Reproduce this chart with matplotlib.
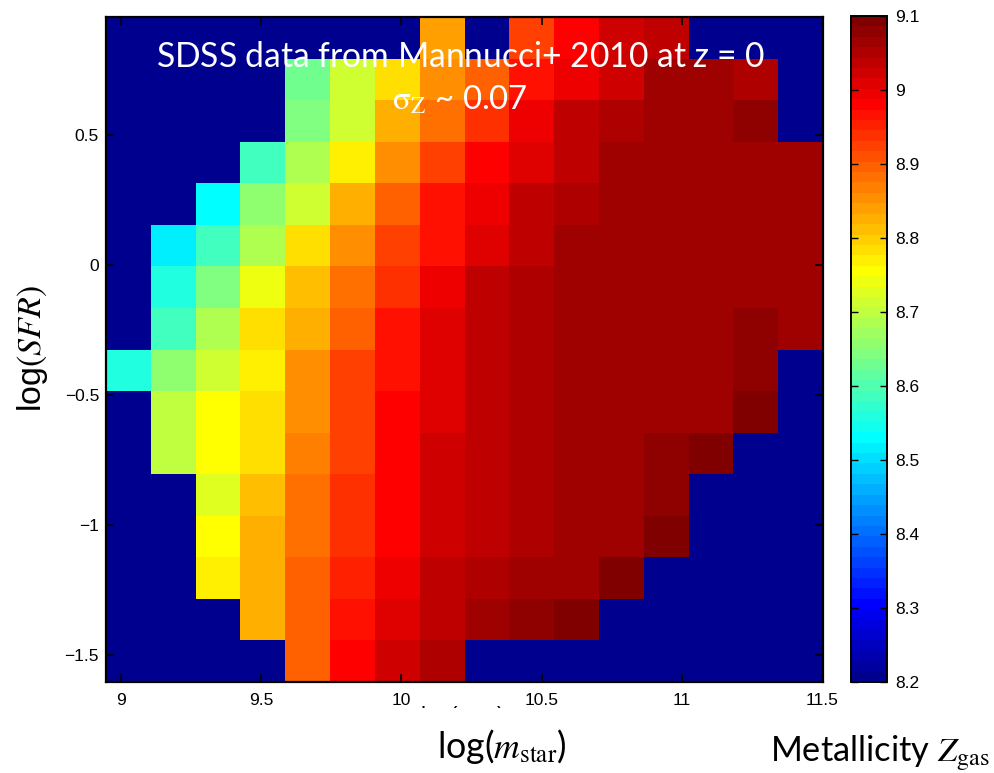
import numpy as np
import matplotlib
matplotlib.use('Agg')
import matplotlib.pyplot as plt
from matplotlib.colors import ListedColormap, Normalize
from matplotlib.patches import Rectangle

nan = np.nan

# bin centres (0.16 dex bins)
mass_bins = [9.025, 9.185, 9.345, 9.505, 9.665, 9.825, 9.985, 10.145,
             10.305, 10.465, 10.625, 10.785, 10.945, 11.105, 11.265, 11.425]
sfr_bins = [0.875, 0.715, 0.555, 0.395, 0.235, 0.075, -0.085, -0.245,
            -0.405, -0.565, -0.725, -0.885, -1.045, -1.205, -1.365, -1.525]

# gas metallicity per (SFR row, mass column)
z_gas = [
    [nan, nan, nan, nan, nan, nan, nan, 8.840, nan, 8.924, 8.980, 9.023, 9.037, nan, nan, nan],
    [nan, nan, nan, nan, 8.629, 8.713, 8.784, 8.854, 8.896, 8.966, 8.995, 9.023, 9.065, 9.065, 9.051, nan],
    [nan, nan, nan, nan, 8.643, 8.713, 8.826, 8.882, 8.938, 8.995, 9.037, 9.051, 9.065, 9.065, 9.079, nan],
    [nan, nan, nan, 8.586, 8.685, 8.770, 8.854, 8.924, 8.980, 9.009, 9.037, 9.065, 9.065, 9.065, 9.065, 9.065],
    [nan, nan, 8.530, 8.657, 8.713, 8.826, 8.896, 8.966, 8.995, 9.037, 9.051, 9.065, 9.065, 9.065, 9.065, 9.065],
    [nan, 8.516, 8.586, 8.685, 8.784, 8.854, 8.924, 8.966, 9.009, 9.037, 9.065, 9.065, 9.065, 9.065, 9.065, 9.065],
    [nan, 8.558, 8.643, 8.741, 8.812, 8.882, 8.938, 8.995, 9.037, 9.051, 9.065, 9.065, 9.065, 9.065, 9.065, 9.065],
    [nan, 8.586, 8.685, 8.784, 8.826, 8.896, 8.966, 9.009, 9.037, 9.051, 9.065, 9.065, 9.065, 9.065, 9.079, 9.065],
    [8.558, 8.657, 8.713, 8.770, 8.854, 8.924, 8.966, 9.009, 9.037, 9.051, 9.065, 9.065, 9.065, 9.065, 9.079, nan],
    [nan, 8.699, 8.755, 8.784, 8.854, 8.924, 8.980, 9.009, 9.037, 9.051, 9.065, 9.065, 9.065, 9.065, 9.093, nan],
    [nan, 8.699, 8.755, 8.784, 8.868, 8.924, 8.980, 9.023, 9.037, 9.051, 9.065, 9.065, 9.079, 9.093, nan, nan],
    [nan, nan, 8.727, 8.812, 8.882, 8.938, 8.980, 9.023, 9.037, 9.051, 9.065, 9.065, 9.079, nan, nan, nan],
    [nan, nan, 8.755, 8.826, 8.882, 8.938, 8.980, 9.023, 9.037, 9.051, 9.065, 9.065, 9.093, nan, nan, nan],
    [nan, nan, 8.770, 8.826, 8.896, 8.952, 8.995, 9.037, 9.051, 9.065, 9.065, 9.093, nan, nan, nan, nan],
    [nan, nan, nan, 8.826, 8.896, 8.966, 9.009, 9.037, 9.065, 9.079, 9.093, nan, nan, nan, nan, nan],
    [nan, nan, nan, nan, 8.896, 8.980, 9.023, 9.051, nan, nan, nan, nan, nan, nan, nan, nan],
]

x_ticks = [9, 9.5, 10, 10.5, 11, 11.5]
x_labels = ['9', '9.5', '10', '10.5', '11', '11.5']
y_ticks = [-1.5, -1, -0.5, 0, 0.5]
y_labels = ['\u22121.5', '\u22121', '\u22120.5', '0', '0.5']
cb_ticks = [8.2, 8.3, 8.4, 8.5, 8.6, 8.7, 8.8, 8.9, 9.0, 9.1]
cb_labels = ['8.2', '8.3', '8.4', '8.5', '8.6', '8.7', '8.8', '8.9', '9', '9.1']


# MATLAB style jet(64)
def matlab_jet(m=64):
    n = int(np.ceil(m / 4))
    u = np.concatenate([np.arange(1, n + 1) / n, np.ones(n - 1), np.arange(n, 0, -1) / n])
    g = int(np.ceil(n / 2)) - (1 if m % 4 == 1 else 0) + np.arange(1, len(u) + 1)
    r = g + n
    b = g - n
    J = np.zeros((m, 3))
    J[r[r <= m] - 1, 0] = u[r <= m]
    J[g[g <= m] - 1, 1] = u[g <= m]
    J[b[b >= 1] - 1, 2] = u[b >= 1]
    return J


jet = matlab_jet(64)
cmap = ListedColormap(jet)
cmap.set_bad(jet[0])

plt.rcParams['mathtext.fontset'] = 'custom'
plt.rcParams['mathtext.rm'] = 'Lato'
plt.rcParams['mathtext.it'] = 'Lato:italic'

W, H = 995, 773
fig = plt.figure(figsize=(W / 100, H / 100), dpi=100, facecolor='white')


def fx(x):
    return x / W


def fy(y):
    return 1 - y / H


ax = fig.add_axes([fx(106), fy(682), (823 - 106) / W, (682 - 17) / H])
data = np.ma.masked_invalid(np.array(z_gas))
mesh = ax.pcolormesh(mass_bins, sfr_bins, data, cmap=cmap,
                     norm=Normalize(8.2, 9.1), shading='nearest')
ax.set_facecolor(jet[0])
ax.set_xlim(8.945, 11.505)
ax.set_ylim(-1.605, 0.955)
ax.set_xticks(x_ticks)
ax.set_xticklabels(x_labels)
ax.set_yticks(y_ticks)
ax.set_yticklabels(y_labels)
ax.tick_params(direction='in', length=6, width=1.2, top=True, right=True,
               labelsize=12.5, colors='black')
ax.tick_params(axis='x', pad=8)
ax.tick_params(axis='y', pad=5)
for lab in ax.get_xticklabels() + ax.get_yticklabels():
    lab.set_fontfamily('Liberation Sans')
for sp in ax.spines.values():
    sp.set_linewidth(1.6)

cax = fig.add_axes([fx(851), fy(682), (887 - 851) / W, (682 - 16) / H])
cb = fig.colorbar(mesh, cax=cax)
cb.set_ticks(cb_ticks)
cb.set_ticklabels(cb_labels)
cb.ax.tick_params(direction='in', length=5, width=1, left=True, right=True,
                  labelsize=12.5, pad=6)
for lab in cb.ax.get_yticklabels():
    lab.set_fontfamily('Liberation Sans')
cb.outline.set_linewidth(1.4)

renderer = fig.canvas.get_renderer()


def fit(txt, size_px, along='width'):
    bb = txt.get_window_extent(renderer=renderer)
    cur = bb.width if along == 'width' else bb.height
    txt.set_fontsize(txt.get_fontsize() * size_px / cur)


t1 = fig.text(fx(461), fy(67), 'SDSS data from Mannucci+ 2010 at $z$ = 0',
              ha='center', va='baseline', color='white', family='Lato',
              math_fontfamily='custom', fontsize=24)
fit(t1, 609)
t2 = fig.text(fx(460), fy(110), r'$\mathrm{\sigma_Z}$ ~ 0.07',
              ha='center', va='baseline', color='white', family='Lato',
              math_fontfamily='stix', fontsize=24)
fit(t2, 136)

ylab = fig.text(fx(32), fy(349), 'log$(SFR)$', rotation=90, ha='center',
                va='center', family='Liberation Sans', math_fontfamily='stix',
                fontsize=22)
fit(ylab, 127, along='height')

xlab = fig.text(fx(502), fy(758), r'log($m_{\mathrm{star}}$)', ha='center',
                va='baseline', family='Lato', math_fontfamily='stix', fontsize=22)
fit(xlab, 130)

zlab = fig.text(fx(770), fy(760), r'Metallicity $Z_{\mathrm{gas}}$', ha='left',
                va='baseline', family='Lato', math_fontfamily='stix', fontsize=22)
fit(zlab, 220)

# remains of the original axis label, mostly hidden under a white box
fig.text(fx(462), fy(704), r'log($m_{\mathrm{star}}$)', ha='center', va='top',
         family='Liberation Sans', math_fontfamily='stix', fontsize=16)
fig.patches.append(Rectangle((fx(380), fy(728)), 180 / W, 20 / H,
                             transform=fig.transFigure, facecolor='white',
                             edgecolor='none', zorder=10))

fig.savefig('out.png', dpi=100)
